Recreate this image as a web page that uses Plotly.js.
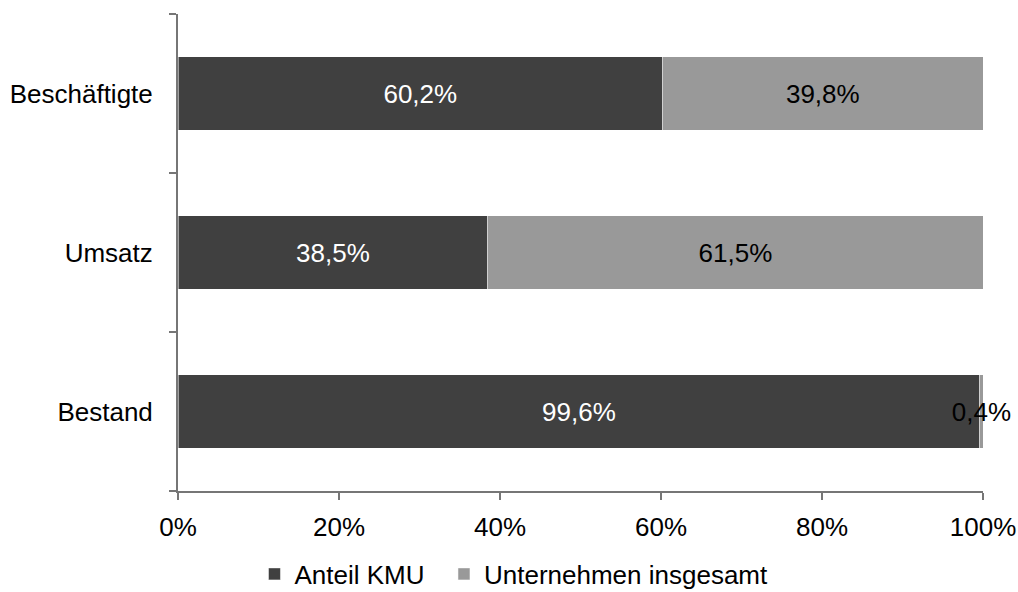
<!DOCTYPE html>
<html>
<head>
<meta charset="utf-8">
<script src="https://cdn.plot.ly/plotly-3.0.1.min.js"></script>
<style>html,body{margin:0;padding:0;background:#fff;}#chart{width:1018px;height:592px;}</style>
</head>
<body>
<div id="chart"></div>
<script>
const categories = ['Bestand', 'Umsatz', 'Beschäftigte'];
const anteilKMU = [99.6, 38.5, 60.2];
const unternehmenInsgesamt = [0.4, 61.5, 39.8];
const seriesNames = ['Anteil KMU', 'Unternehmen insgesamt'];
const xTickVals = [0, 20, 40, 60, 80, 100];
const xTickText = ['0%', '20%', '40%', '60%', '80%', '100%'];

const font = {family: 'Liberation Sans, Arial, sans-serif', size: 26, color: '#000'};

const traces = [
  {
    type: 'bar', orientation: 'h', name: seriesNames[0] + '\u00a0\u00a0',
    y: categories, x: anteilKMU,
    marker: {color: '#404040', line: {color: '#ffffff', width: 0.5}},
    text: anteilKMU.map(v => v.toFixed(1).replace('.', ',') + '%'),
    textposition: 'inside', insidetextanchor: 'middle', textangle: 0,
    constraintext: 'none',
    insidetextfont: {family: font.family, size: 26, color: '#ffffff'},
    hoverinfo: 'none'
  },
  {
    type: 'bar', orientation: 'h', name: seriesNames[1],
    y: categories, x: unternehmenInsgesamt,
    marker: {color: '#999999', line: {color: '#ffffff', width: 0.5}},
    text: unternehmenInsgesamt.map(v => v.toFixed(1).replace('.', ',') + '%'),
    textposition: 'inside', insidetextanchor: 'middle', textangle: 0,
    constraintext: 'none', cliponaxis: false,
    insidetextfont: {family: font.family, size: 26, color: '#000000'},
    hoverinfo: 'none'
  }
];

const layout = {
  width: 1018, height: 592,
  margin: {l: 178, r: 35, t: 14, b: 101, autoexpand: false},
  paper_bgcolor: '#fff', plot_bgcolor: '#fff',
  font: font,
  barmode: 'stack', bargap: 0.54,
  showlegend: true,
  legend: {orientation: 'h', x: 0.095, xanchor: 'left', y: -0.174, yanchor: 'middle',
           font: font, traceorder: 'normal'},
  xaxis: {
    range: [0, 100], tickvals: xTickVals, ticktext: xTickText,
    showgrid: false, zeroline: false, automargin: false,
    showline: true, linecolor: '#767676', linewidth: 2,
    ticks: 'outside', ticklen: 7, tickwidth: 2, tickcolor: '#767676',
    ticklabelstandoff: 5,
    tickfont: font, fixedrange: true
  },
  yaxis: {
    type: 'category', categoryorder: 'array', categoryarray: categories,
    showgrid: false, zeroline: false, automargin: false,
    showline: true, linecolor: '#767676', linewidth: 2,
    ticks: 'outside', tickson: 'boundaries', ticklen: 7, tickwidth: 2, tickcolor: '#767676',
    ticklabelstandoff: 18,
    tickfont: font, fixedrange: true
  }
};

Plotly.newPlot('chart', traces, layout, {displayModeBar: false, staticPlot: true});
</script>
</body>
</html>
